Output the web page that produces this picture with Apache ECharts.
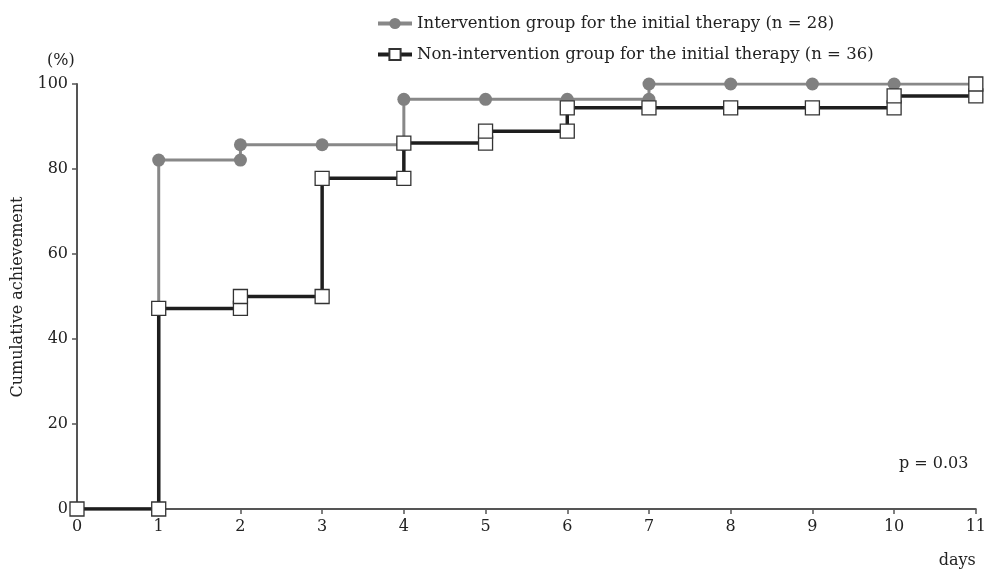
<!DOCTYPE html>
<html>
<head>
<meta charset="utf-8">
<script src="https://cdn.jsdelivr.net/npm/echarts@6/dist/echarts.min.js"></script>
<style>
html,body{margin:0;padding:0;background:#fff;}
#c{width:989px;height:570px;}
</style>
</head>
<body>
<div id="c"></div>
<script>
const seriesNames = ['Intervention group for the initial therapy (n = 28)', 'Non-intervention group for the initial therapy (n = 36)'];
const interventionDays = [0, 1, 1, 2, 2, 3, 4, 4, 5, 6, 7, 7, 8, 9, 10, 11];
const interventionValues = [0, 0, 82.1, 82.1, 85.7, 85.7, 85.7, 96.4, 96.4, 96.4, 96.4, 100, 100, 100, 100, 100];
const nonInterventionDays = [0, 1, 1, 2, 2, 3, 3, 4, 4, 5, 5, 6, 6, 7, 8, 9, 10, 10, 11, 11];
const nonInterventionValues = [0, 0, 47.2, 47.2, 50, 50, 77.8, 77.8, 86.1, 86.1, 88.9, 88.9, 94.4, 94.4, 94.4, 94.4, 94.4, 97.2, 97.2, 100];
const xTicks = [0, 1, 2, 3, 4, 5, 6, 7, 8, 9, 10, 11];
const yTicks = [0, 20, 40, 60, 80, 100];

const FONT = 'DejaVu Serif';
const chart = echarts.init(document.getElementById('c'), null, {renderer: 'canvas'});
const zip = (a, b) => a.map((v, i) => [v, b[i]]);

chart.setOption({
  animation: false,
  backgroundColor: '#fff',
  textStyle: {fontFamily: FONT, color: '#222'},
  grid: {left: 77, right: 13, top: 84, bottom: 61, containLabel: false},
  legend: {
    orient: 'vertical',
    left: 371,
    top: 10,
    itemGap: 14,
    itemWidth: 34,
    itemHeight: 14,
    textStyle: {fontFamily: FONT, fontSize: 16.5, color: '#222'},
    data: [
      {name: seriesNames[0], lineStyle: {width: 4, color: '#888'}},
      {name: seriesNames[1], lineStyle: {width: 4, color: '#1e1e1e'}}
    ]
  },
  xAxis: {
    type: 'value',
    min: 0, max: 11, interval: 1,
    name: 'days',
    nameLocation: 'end',
    nameGap: 0,
    nameTextStyle: {fontFamily: FONT, fontSize: 16, color: '#222', align: 'right', verticalAlign: 'top', padding: [44, 0, 0, 0]},
    axisLine: {lineStyle: {color: '#555', width: 2}},
    axisTick: {show: true, length: 5, lineStyle: {color: '#555', width: 1.5}},
    axisLabel: {fontFamily: FONT, fontSize: 16, color: '#222', margin: 10, formatter: v => xTicks.includes(v) ? String(v) : ''},
    splitLine: {show: false}
  },
  yAxis: {
    type: 'value',
    min: 0, max: 100, interval: 20,
    axisLine: {show: true, lineStyle: {color: '#555', width: 2}},
    axisTick: {show: true, length: 5, lineStyle: {color: '#555', width: 1.5}},
    axisLabel: {fontFamily: FONT, fontSize: 16, color: '#222', margin: 9, formatter: v => yTicks.includes(v) ? String(v) : ''},
    splitLine: {show: false}
  },
  graphic: [
    {type: 'text', left: 47, top: 53, style: {text: '(%)', font: '16px "DejaVu Serif"', fill: '#222'}},
    {type: 'text', x: 18, y: 297, rotation: Math.PI / 2, style: {text: 'Cumulative achievement', font: '16px "DejaVu Serif"', fill: '#222', align: 'center', verticalAlign: 'middle'}},
    {type: 'text', left: 899, top: 456, style: {text: 'p = 0.03', font: '16px "DejaVu Serif"', fill: '#222'}}
  ],
  series: [
    {
      name: seriesNames[0],
      type: 'line',
      data: zip(interventionDays, interventionValues),
      symbol: 'circle',
      symbolSize: 13,
      lineStyle: {color: '#888', width: 3},
      itemStyle: {color: '#808080', borderWidth: 0},
      z: 2
    },
    {
      name: seriesNames[1],
      type: 'line',
      data: zip(nonInterventionDays, nonInterventionValues),
      symbol: 'rect',
      symbolSize: 14,
      lineStyle: {color: '#1e1e1e', width: 3.5},
      itemStyle: {color: '#fff', borderColor: '#333', borderWidth: 1.3},
      z: 3
    }
  ]
});
</script>
</body>
</html>
